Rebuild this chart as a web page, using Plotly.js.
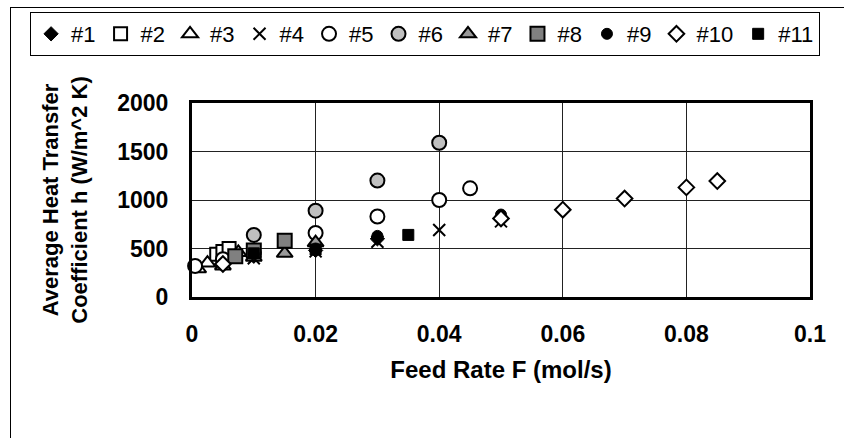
<!DOCTYPE html>
<html><head><meta charset="utf-8">
<script src="https://cdn.plot.ly/plotly-3.0.1.min.js"></script>
<style>
html,body{margin:0;padding:0;background:#fff;}
#wrap{position:relative;width:844px;height:438px;overflow:hidden;}
#chart{position:absolute;left:0;top:0;width:844px;height:438px;}
#frame{position:absolute;left:10px;top:7px;width:840px;height:440px;border-left:1px solid #000;border-top:1px solid #000;pointer-events:none;}
</style></head>
<body><div id="wrap"><div id="chart"></div><div id="frame"></div></div>
<script>
const seriesNames = ['#1','#2','#3','#4','#5','#6','#7','#8','#9','#10','#11'];
const x1 = [0.01, 0.02, 0.03];                 const y1 = [420, 480, 600];
const x2 = [0.004, 0.005, 0.006];              const y2 = [440, 470, 500];
const x3 = [0.001, 0.0025, 0.0075];            const y3 = [290, 350, 460];
const x4 = [0.01, 0.02, 0.03, 0.04, 0.05];     const y4 = [400, 470, 570, 690, 780];
const x5 = [0.0005, 0.005, 0.01, 0.02, 0.03, 0.04, 0.045]; const y5 = [320, 390, 460, 660, 830, 1000, 1120];
const x6 = [0.01, 0.02, 0.03, 0.04];           const y6 = [640, 890, 1200, 1590];
const x7 = [0.005, 0.01, 0.015, 0.02];         const y7 = [320, 410, 450, 560];
const x8 = [0.007, 0.01, 0.015];               const y8 = [420, 480, 580];
const x9 = [0.01, 0.02, 0.03, 0.05];           const y9 = [440, 500, 630, 850];
const x10 = [0.005, 0.05, 0.06, 0.07, 0.08, 0.085]; const y10 = [340, 810, 900, 1015, 1130, 1195];
const x11 = [0.01, 0.02, 0.035];               const y11 = [450, 490, 640];
const xTicks = [0, 0.02, 0.04, 0.06, 0.08, 0.1];
const xTickText = ['0','0.02','0.04','0.06','0.08','0.1'];
const yTicks = [0, 500, 1000, 1500, 2000];

const xs = [x1,x2,x3,x4,x5,x6,x7,x8,x9,x10,x11];
const ys = [y1,y2,y3,y4,y5,y6,y7,y8,y9,y10,y11];
const markers = [
  {symbol:'diamond', size:11, color:'#000', line:{color:'#000', width:1}},
  {symbol:'square', size:13, color:'#fff', line:{color:'#000', width:2}},
  {symbol:'triangle-up', size:14, color:'#fff', line:{color:'#000', width:2}},
  {symbol:'x-thin-open', size:12, color:'#000', line:{color:'#000', width:2}},
  {symbol:'circle', size:14, color:'#fff', line:{color:'#000', width:2}},
  {symbol:'circle', size:14, color:'#c0c0c0', line:{color:'#000', width:2}},
  {symbol:'triangle-up', size:14, color:'#999999', line:{color:'#000', width:2}},
  {symbol:'square', size:14, color:'#808080', line:{color:'#000', width:2}},
  {symbol:'circle', size:11, color:'#000', line:{color:'#000', width:1}},
  {symbol:'diamond', size:12, color:'#fff', line:{color:'#000', width:2}},
  {symbol:'square', size:11, color:'#000', line:{color:'#000', width:1}}
];
const traces = seriesNames.map((n,i)=>({
  type:'scatter', mode:'markers', name:n, x:xs[i], y:ys[i], marker:markers[i], cliponaxis:false
}));
const font = {family:'"Liberation Sans", Arial, sans-serif', color:'#000'};
const layout = {
  width:844, height:438,
  margin:{l:192, r:34, t:103, b:141},
  paper_bgcolor:'#fff', plot_bgcolor:'#fff',
  font:font,
  showlegend:true,
  legend:{orientation:'h', x:-0.262, y:1.469, xanchor:'left', yanchor:'top',
    bordercolor:'#000', borderwidth:1, bgcolor:'#fff',
    font:{family:font.family, size:22, color:'#000'}, itemwidth:30, tracegroupgap:0},
  xaxis:{range:[0,0.1], tickvals:xTicks, ticktext:xTickText, showgrid:true, gridcolor:'#222', gridwidth:1,
    zeroline:false, showline:true, linecolor:'#000', linewidth:3, mirror:true, ticks:'', ticklabelstandoff:14,
    tickfont:{family:font.family, size:23, weight:'bold', color:'#000'},
    title:{text:'Feed Rate F (mol/s)', font:{family:font.family, size:24, weight:'bold', color:'#000'}, standoff:16}},
  yaxis:{range:[0,2000], tickvals:yTicks, showgrid:true, gridcolor:'#222', gridwidth:1,
    zeroline:false, showline:true, linecolor:'#000', linewidth:3, mirror:true, ticks:'', ticklabelstandoff:16,
    tickfont:{family:font.family, size:23, weight:'bold', color:'#000'},
    title:{text:'Average Heat Transfer<br>Coefficient h (W/m^2 K)', font:{family:font.family, size:22, weight:'bold', color:'#000'}, standoff:24}}
};
Plotly.newPlot('chart', traces, layout, {displayModeBar:false, staticPlot:true});
</script></body></html>
